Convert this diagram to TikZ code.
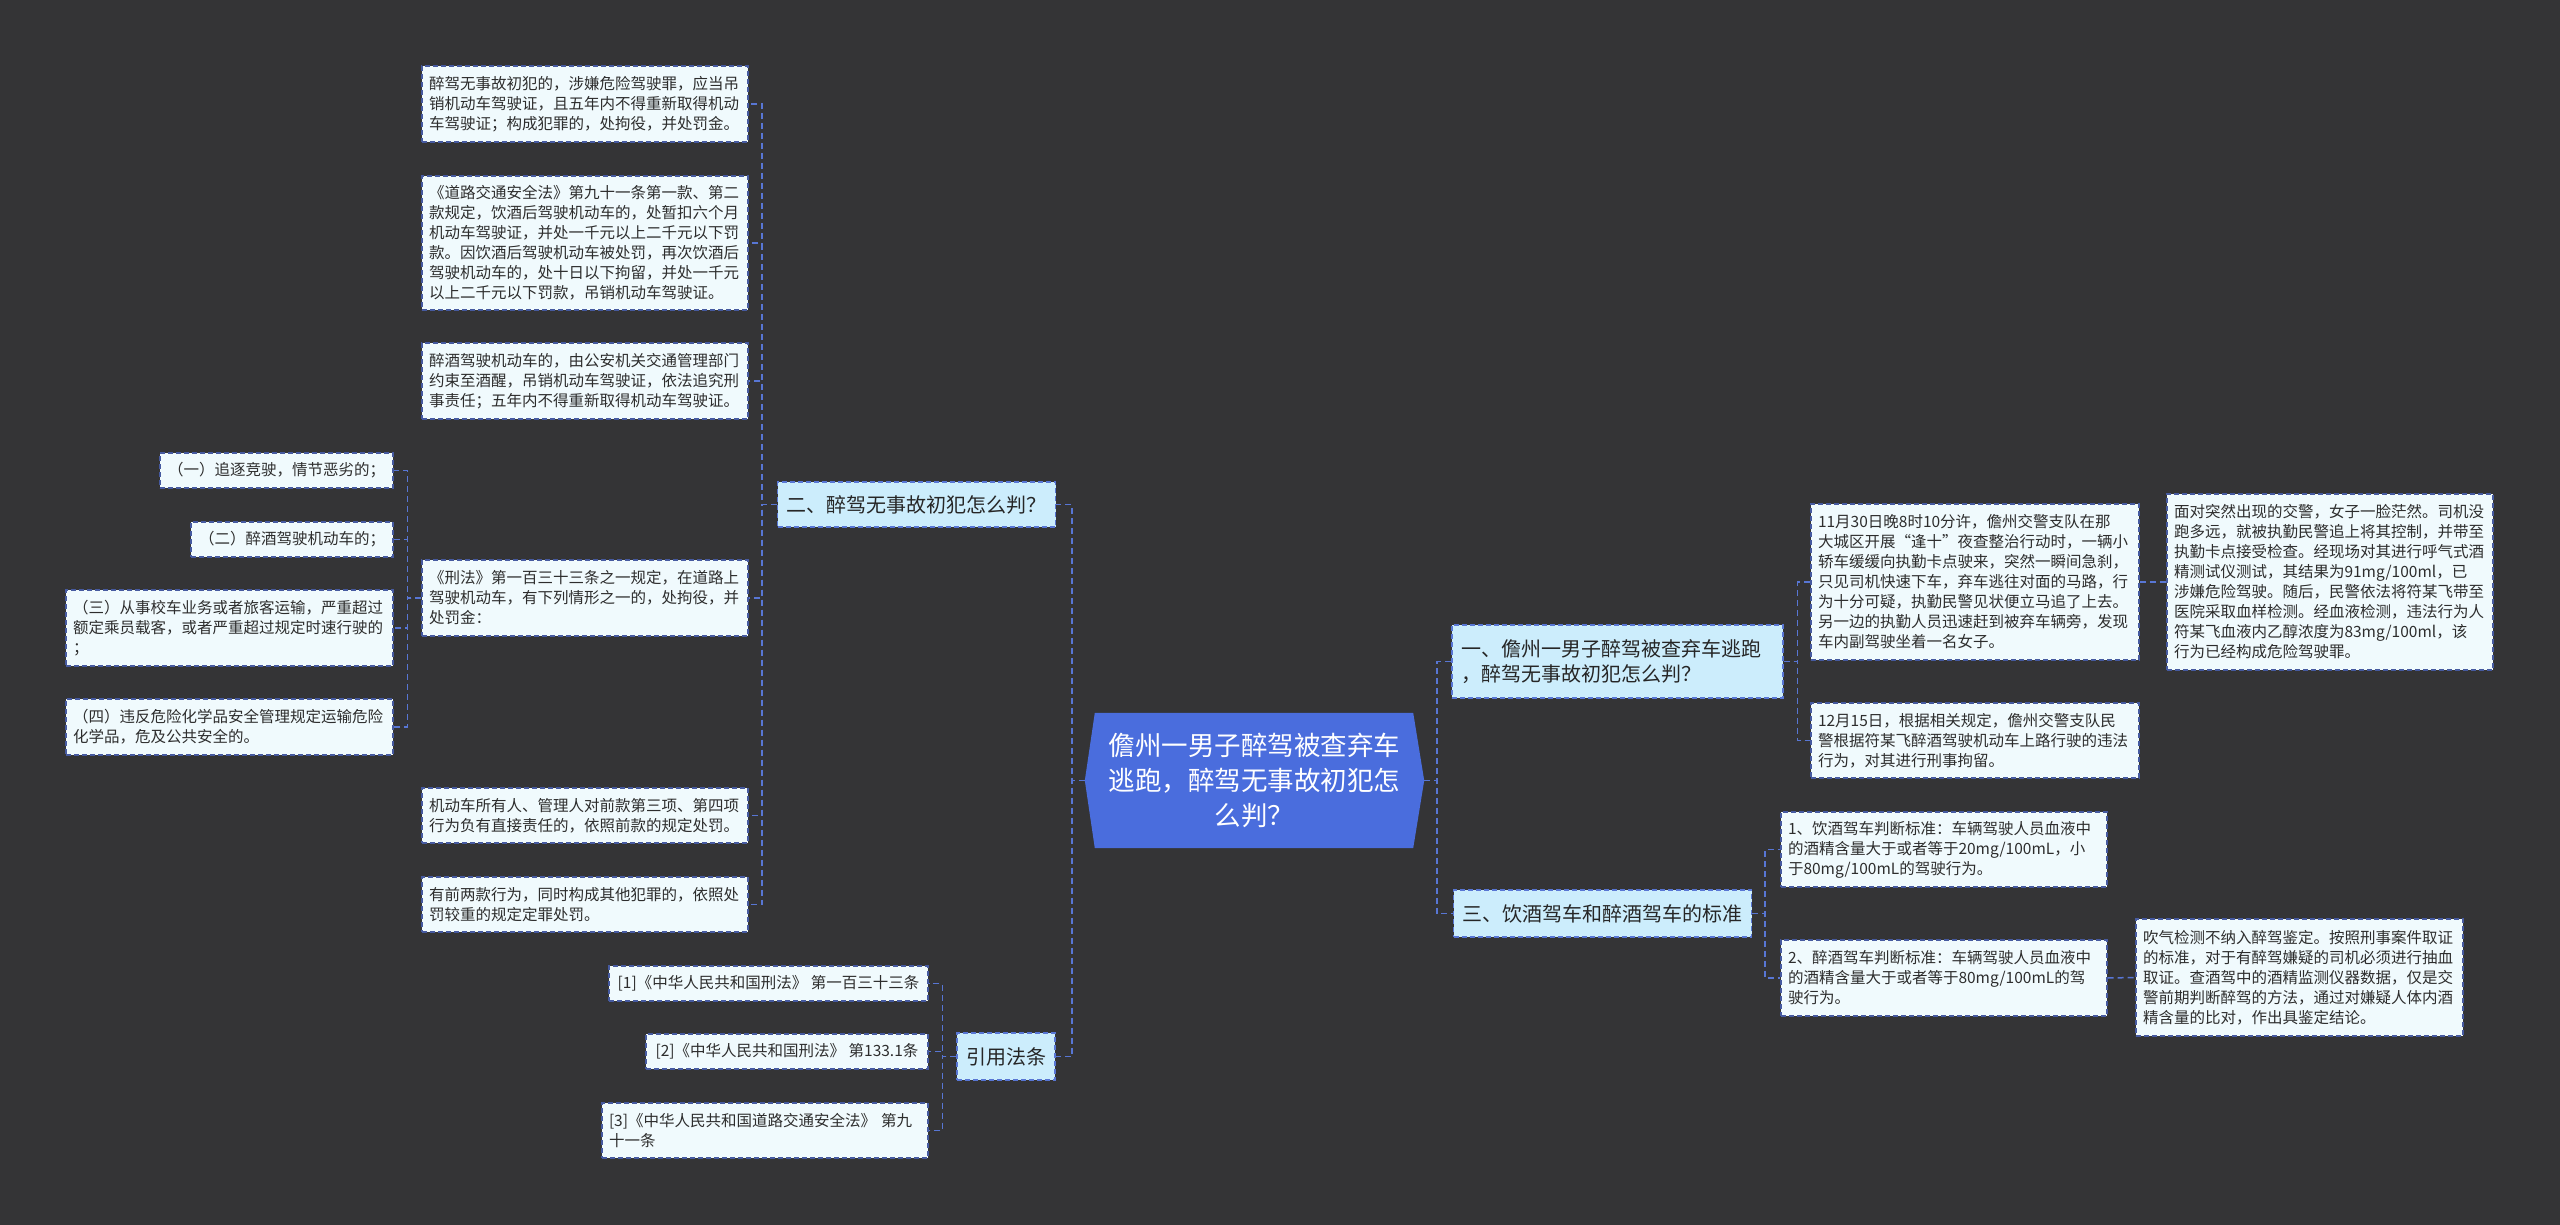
\documentclass[tikz,border=0pt]{standalone}
\usepackage{fontspec}
\newfontfamily\cjk{Noto Sans CJK SC}
\usepackage{tikz}
\usetikzlibrary{positioning}

\definecolor{bgc}{RGB}{52,52,54}
\definecolor{leaff}{RGB}{240,250,253}
\definecolor{topf}{RGB}{204,237,252}
\definecolor{ctrf}{RGB}{74,109,221}
\definecolor{linec}{RGB}{88,118,212}
\definecolor{edgec}{RGB}{70,90,160}
\definecolor{txtc}{RGB}{45,45,45}

\pgfdeclarelayer{bg}
\pgfsetlayers{bg,main}

\tikzset{
  leaf/.style={draw=edgec, line width=1.2pt, dash pattern=on 5pt off 3pt,
    fill=leaff, text=txtc, font=\cjk\fontsize{15.5}{20}\selectfont,
    align=left, inner xsep=7pt, inner ysep=6pt},
  topic/.style={draw=linec, line width=1.2pt, dash pattern=on 5pt off 3pt,
    fill=topf, text=black!85, font=\cjk\fontsize{20}{25}\selectfont,
    align=left, inner xsep=9pt, inner ysep=6pt},
  ctrtext/.style={text=white, font=\cjk\fontsize{26.5}{35}\selectfont,
    align=center, minimum width=339pt, minimum height=135pt, inner sep=0pt},
  link/.style={linec, line width=1.5pt, dash pattern=on 6pt off 4pt}
}

\begin{document}
\begin{tikzpicture}[x=1pt,y=-1pt]
\useasboundingbox (0,0) rectangle (2560,1225);
\begin{pgfonlayer}{bg}
\fill[bgc] (0,0) rectangle (2560,1225);
\end{pgfonlayer}

% centre
\node[ctrtext] (ctr) at (1254.5,780.5) {儋州一男子醉驾被查弃车\\逃跑，醉驾无事故初犯怎\\么判？};

% left side
\node[topic, minimum height=45pt] (s2) at (916.5,504.5) {二、醉驾无事故初犯怎么判？};
\node[topic, minimum height=47pt] (s4) at (1006,1056.5) {引用法条};

\node[leaf, text width=312pt, minimum height=76pt] (a1) at (585,104) {醉驾无事故初犯的，涉嫌危险驾驶罪，应当吊\\销机动车驾驶证，且五年内不得重新取得机动\\车驾驶证；构成犯罪的，处拘役，并处罚金。};
\node[leaf, text width=312pt, minimum height=134pt] (a2) at (585,243) {《道路交通安全法》第九十一条第一款、第二\\款规定，饮酒后驾驶机动车的，处暂扣六个月\\机动车驾驶证，并处一千元以上二千元以下罚\\款。因饮酒后驾驶机动车被处罚，再次饮酒后\\驾驶机动车的，处十日以下拘留，并处一千元\\以上二千元以下罚款，吊销机动车驾驶证。};
\node[leaf, text width=312pt, minimum height=76pt] (a3) at (585,381) {醉酒驾驶机动车的，由公安机关交通管理部门\\约束至酒醒，吊销机动车驾驶证，依法追究刑\\事责任；五年内不得重新取得机动车驾驶证。};
\node[leaf, text width=312pt, minimum height=76pt] (a4) at (585,598) {《刑法》第一百三十三条之一规定，在道路上\\驾驶机动车，有下列情形之一的，处拘役，并\\处罚金：};
\node[leaf, text width=312pt, minimum height=55pt] (a5) at (585,815.5) {机动车所有人、管理人对前款第三项、第四项\\行为负有直接责任的，依照前款的规定处罚。};
\node[leaf, text width=312pt, minimum height=55pt] (a6) at (585,904.5) {有前两款行为，同时构成其他犯罪的，依照处\\罚较重的规定定罪处罚。};

\node[leaf, minimum width=233pt, minimum height=35pt] (b1) at (276.5,470.5) {（一）追逐竞驶，情节恶劣的；};
\node[leaf, minimum width=202pt, minimum height=35pt] (b2) at (292,539.5) {（二）醉酒驾驶机动车的；};
\node[leaf, text width=313pt, minimum height=76pt] (b3) at (229.5,628) {（三）从事校车业务或者旅客运输，严重超过\\额定乘员载客，或者严重超过规定时速行驶的\\；};
\node[leaf, text width=313pt, minimum height=56pt] (b4) at (229.5,727) {（四）违反危险化学品安全管理规定运输危险\\化学品，危及公共安全的。};

\node[leaf, minimum width=319pt, minimum height=35pt] (c1) at (768.5,983.5) {[1]《中华人民共和国刑法》 第一百三十三条};
\node[leaf, minimum width=282pt, minimum height=35pt] (c2) at (787,1051.5) {[2]《中华人民共和国刑法》 第133.1条};
\node[leaf, text width=312pt, minimum height=55pt] (c3) at (765,1130.5) {[3]《中华人民共和国道路交通安全法》 第九\\十一条};

% right side
\node[topic, text width=313pt, minimum height=73pt] (r1) at (1617.5,661.5) {一、儋州一男子醉驾被查弃车逃跑\\，醉驾无事故初犯怎么判？};
\node[topic, minimum height=47pt] (r3) at (1602.5,913.5) {三、饮酒驾车和醉酒驾车的标准};

\node[leaf, text width=314pt, minimum height=156pt] (d1) at (1975,582) {11月30日晚8时10分许，儋州交警支队在那\\大城区开展“逢十”夜查整治行动时，一辆小\\轿车缓缓向执勤卡点驶来，突然一瞬间急刹，\\只见司机快速下车，弃车逃往对面的马路，行\\为十分可疑，执勤民警见状便立马追了上去。\\另一边的执勤人员迅速赶到被弃车辆旁，发现\\车内副驾驶坐着一名女子。};
\node[leaf, text width=314pt, minimum height=75pt] (d2) at (1975,740.5) {12月15日，根据相关规定，儋州交警支队民\\警根据符某飞醉酒驾驶机动车上路行驶的违法\\行为，对其进行刑事拘留。};
\node[leaf, text width=312pt, minimum height=176pt] (e1) at (2330,582) {面对突然出现的交警，女子一脸茫然。司机没\\跑多远，就被执勤民警追上将其控制，并带至\\执勤卡点接受检查。经现场对其进行呼气式酒\\精测试仪测试，其结果为91mg/100ml，已\\涉嫌危险驾驶。随后，民警依法将符某飞带至\\医院采取血样检测。经血液检测，违法行为人\\符某飞血液内乙醇浓度为83mg/100ml，该\\行为已经构成危险驾驶罪。};
\node[leaf, text width=312pt, minimum height=75pt] (f1) at (1944,849.5) {1、饮酒驾车判断标准：车辆驾驶人员血液中\\的酒精含量大于或者等于20mg/100mL，小\\于80mg/100mL的驾驶行为。};
\node[leaf, text width=312pt, minimum height=76pt] (f2) at (1944,978) {2、醉酒驾车判断标准：车辆驾驶人员血液中\\的酒精含量大于或者等于80mg/100mL的驾\\驶行为。};
\node[leaf, text width=313pt, minimum height=117pt] (g1) at (2299.5,977.5) {吹气检测不纳入醉驾鉴定。按照刑事案件取证\\的标准，对于有醉驾嫌疑的司机必须进行抽血\\取证。查酒驾中的酒精监测仪器数据，仅是交\\警前期判断醉驾的方法，通过对嫌疑人体内酒\\精含量的比对，作出具鉴定结论。};

\begin{pgfonlayer}{bg}
\fill[ctrf] ([xshift=10pt]ctr.north west) -- ([xshift=-11pt]ctr.north east) -- (ctr.east)
  -- ([xshift=-11pt]ctr.south east) -- ([xshift=10pt]ctr.south west) -- (ctr.west) -- cycle;
\draw[link] (ctr.west) -- ++(-13,0) |- (s2.east);
\draw[link] (ctr.west) -- ++(-13,0) |- (s4.east);
\foreach \n in {a1,a2,a3,a4,a5,a6}
  \draw[link] (s2.west) -- ++(-15,0) |- (\n.east);
\foreach \n in {b1,b2,b3,b4}
  \draw[link] (a4.west) -- ++(-14,0) |- (\n.east);
\foreach \n in {c1,c2,c3}
  \draw[link] (s4.west) -- ++(-14,0) |- (\n.east);
\foreach \n in {r1,r3}
  \draw[link] (ctr.east) -- ++(13,0) |- (\n.west);
\foreach \n in {d1,d2}
  \draw[link] (r1.east) -- ++(14,0) |- (\n.west);
\draw[link] (d1.east) -- (e1.west);
\foreach \n in {f1,f2}
  \draw[link] (r3.east) -- ++(13,0) |- (\n.west);
\draw[link] (f2.east) -- (g1.west);
\end{pgfonlayer}
\end{tikzpicture}
\end{document}
